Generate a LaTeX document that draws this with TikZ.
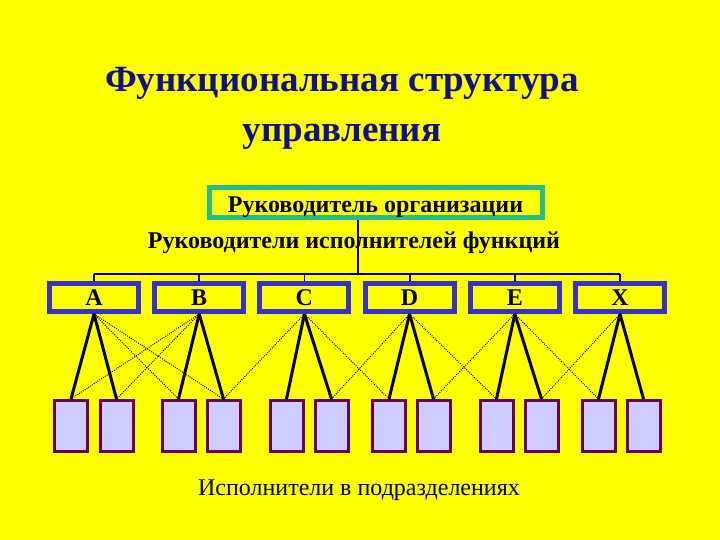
\documentclass[tikz,border=0pt]{standalone}
\usepackage{fontspec}
\setmainfont{Liberation Serif}
\definecolor{bgyellow}{RGB}{255,255,0}
\definecolor{titleblue}{RGB}{16,16,140}
\definecolor{headteal}{RGB}{32,190,150}
\definecolor{mgrblue}{RGB}{51,51,204}
\definecolor{unitpurple}{RGB}{102,0,102}
\definecolor{unitfill}{RGB}{204,204,255}
\begin{document}
\begin{tikzpicture}[x=1pt,y=-1pt,
  titletext/.style={anchor=base,text=titleblue,inner sep=0pt,font=\bfseries\fontsize{37}{37}\selectfont},
  boldlbl/.style={anchor=base,inner sep=0pt,font=\bfseries\fontsize{24}{24}\selectfont},
  headbox/.style={draw=headteal,line width=5pt,minimum width=333pt,minimum height=30pt,inner sep=0pt},
  mgr/.style={draw=mgrblue,line width=5pt,minimum width=89pt,minimum height=28pt,inner sep=0pt},
  unit/.style={draw=unitpurple,fill=unitfill,line width=3pt,minimum width=33pt,minimum height=51pt,inner sep=0pt},
  labeltext/.style={anchor=base,inner sep=0pt,font=\fontsize{24}{24}\selectfont},
  bus/.style={line width=1.8pt,black},
  strong link/.style={line width=3pt,black},
  weak link/.style={line width=1pt,black,dash pattern=on 1pt off 1.2pt}
]
\fill[bgyellow] (0,0) rectangle (720,540);
\useasboundingbox (0,0) rectangle (720,540);

% title
\node[titletext] (t1) at (342,92) {Функциональная структура};
\node[titletext] (t2) at (342,142) {управления};

% head
\node[headbox] (head) at (376,202.5) {};
\node[boldlbl] (headlbl) at (375.5,212) {Руководитель организации};
\node[boldlbl] (mgrlbl) at (354,248) {Руководители исполнителей функций};

% managers
\node[mgr] (A) at (94,297.5) {};
\node[mgr] (B) at (199.2,297.5) {};
\node[mgr] (C) at (304.4,297.5) {};
\node[mgr] (D) at (409.6,297.5) {};
\node[mgr] (E) at (514.8,297.5) {};
\node[mgr] (X) at (620,297.5) {};
\foreach \m/\t in {A/A,B/B,C/C,D/D,E/E,X/X}
  \node[boldlbl] (\m lbl) at ([yshift=-7.5pt]\m.center) {\t};

% units
\node[unit] (u1) at (71,426) {};
\node[unit] (u2) at (116.5,426) {};
\node[unit] (u3) at (178.5,426) {};
\node[unit] (u4) at (223.5,426) {};
\node[unit] (u5) at (286.5,426) {};
\node[unit] (u6) at (331.5,426) {};
\node[unit] (u7) at (389,426) {};
\node[unit] (u8) at (433.5,426) {};
\node[unit] (u9) at (496.5,426) {};
\node[unit] (u10) at (541.5,426) {};
\node[unit] (u11) at (598.5,426) {};
\node[unit] (u12) at (643.5,426) {};

\node[labeltext] (unitlbl) at (359,495) {Исполнители в подразделениях};

% bus
\coordinate (bj) at (358,274);
\draw[bus] (head.south -| bj) -- (bj);
\draw[bus] (A.north |- bj) -- (X.north |- bj);
\foreach \m in {A,B,C,D,E,X}
  \draw[bus] (\m.north |- bj) -- (\m.north);

% strong links
\foreach \m/\a/\b in {A/u1/u2,B/u3/u4,C/u5/u6,D/u7/u8,E/u9/u10,X/u11/u12}{
  \draw[strong link] (\m.south) -- (\a.north);
  \draw[strong link] (\m.south) -- (\b.north);
}
% weak links
\foreach \m/\u in {A/u3,A/u4,B/u1,B/u2,C/u4,C/u7,D/u6,D/u9,E/u8,E/u11,X/u10}
  \draw[weak link] (\m.south) -- (\u.north);
\end{tikzpicture}
\end{document}
